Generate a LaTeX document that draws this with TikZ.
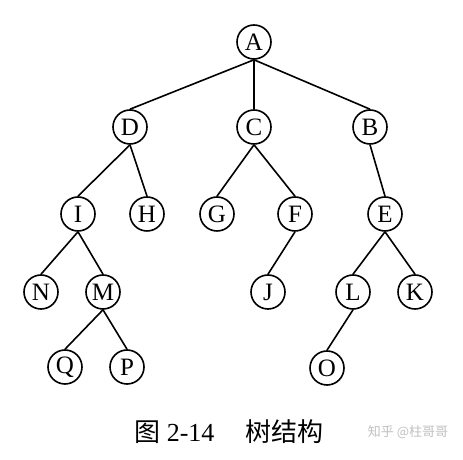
\documentclass[tikz,border=0pt]{standalone}
\usepackage{fontspec}
\setmainfont{Liberation Serif}
\newfontfamily\cjk{Noto Sans CJK SC}
\usetikzlibrary{positioning}

\begin{document}
\begin{tikzpicture}[
  x=1pt, y=1pt,
  vertex/.style={draw, circle, line width=1.6pt, minimum size=34pt, inner sep=0pt, font=\fontsize{25}{27}\selectfont},
  edge/.style={line width=1.6pt},
  caption/.style={font=\fontsize{26}{30}\selectfont},
  mark note/.style={text=black!25, font=\cjk\fontsize{13}{15}\selectfont}
]
\useasboundingbox (0,0) rectangle (463,460);

% nodes
\node[vertex] (A) at (254,418) {A};
\node[vertex] (D) at (130,333) {D};
\node[vertex] (C) at (254,333) {C};
\node[vertex] (B) at (370,333) {B};
\node[vertex] (I) at (78,246) {I};
\node[vertex] (H) at (147,246) {H};
\node[vertex] (G) at (217,246) {G};
\node[vertex] (F) at (295,246) {F};
\node[vertex] (E) at (385,246) {E};
\node[vertex] (N) at (41,168) {N};
\node[vertex] (M) at (103,168) {M};
\node[vertex] (J) at (268,168) {J};
\node[vertex] (L) at (353,168) {L};
\node[vertex] (K) at (415,168) {K};
\node[vertex] (Q) at (65,93) {Q};
\node[vertex] (P) at (127,93) {P};
\node[vertex] (O) at (327,92) {O};

% edges (parent bottom to child top)
\draw[edge] (A.south) -- (D.north);
\draw[edge] (A.south) -- (C.north);
\draw[edge] (A.south) -- (B.north);
\draw[edge] (D.south) -- (I.north);
\draw[edge] (D.south) -- (H.north);
\draw[edge] (C.south) -- (G.north);
\draw[edge] (C.south) -- (F.north);
\draw[edge] (B.south) -- (E.north);
\draw[edge] (I.south) -- (N.north);
\draw[edge] (I.south) -- (M.north);
\draw[edge] (F.south) -- (J.north);
\draw[edge] (E.south) -- (L.north);
\draw[edge] (E.south) -- (K.north);
\draw[edge] (M.south) -- (Q.north);
\draw[edge] (M.south) -- (P.north);
\draw[edge] (L.south) -- (O.north);

% caption and watermark
\node[caption] (title) at (229,28) {{\cjk 图} 2-14\hspace{1.2em}{\cjk 树结构}};
\node[mark note] (mark) at (408,28) {知乎 @柱哥哥};

\end{tikzpicture}
\end{document}
